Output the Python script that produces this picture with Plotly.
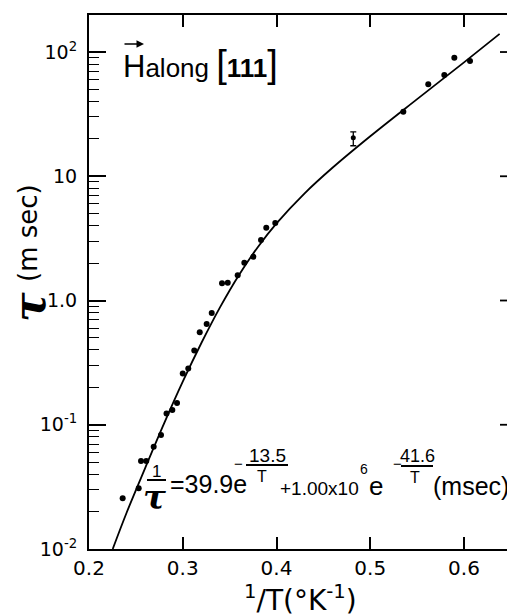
import math
import plotly.graph_objects as go

# ---- data ----
x_pts = [0.2359, 0.2530, 0.2555, 0.2611, 0.2690, 0.2768, 0.2827, 0.2889, 0.2939,
         0.3000, 0.3059, 0.3123, 0.3181, 0.3255, 0.3309, 0.3419, 0.3480, 0.3586,
         0.3657, 0.3753, 0.3835, 0.3891, 0.3987, 0.5353, 0.5619, 0.5790, 0.5897, 0.6064]
tau_pts = [0.0256, 0.0308, 0.0510, 0.0510, 0.0665, 0.0827, 0.123, 0.1315, 0.1496,
           0.259, 0.284, 0.396, 0.555, 0.647, 0.793, 1.375, 1.39, 1.60,
           2.01, 2.25, 3.07, 3.85, 4.2, 33.1, 55.0, 65.3, 90.0, 84.7]

x_err = [0.4819]
tau_err = [20.4]
err_plus = [2.4]
err_minus = [2.8]

x_fit = [0.2253, 0.24, 0.26, 0.28, 0.30, 0.32, 0.34, 0.36, 0.38, 0.40,
         0.43, 0.46, 0.50, 0.55, 0.60, 0.638]
tau_fit = [0.0100, 0.0195, 0.045, 0.102, 0.222, 0.457, 0.889, 1.607, 2.685, 4.175,
           7.29, 11.76, 21.0, 41.8, 82.6, 140.0]

x_tickvals = [0.2, 0.3, 0.4, 0.5, 0.6]
x_ticktext = ["0.2", "0.3", "0.4", "0.5", "0.6"]
y_tickvals = [0.01, 0.1, 1, 10, 100]
y_ticktext = ["10<sup>-2</sup>", "10<sup>-1</sup>", "1.0", "10", "10<sup>2</sup>"]

# ---- layout geometry (reference pixel coords; page body adds an 8px offset) ----
OFF = 8
W, H = 515 - OFF, 616 - OFF
L, R, T, B = 89, 515, 15, 549
YLOG = [-2, 2.298]


def px(x):
    return (x - L) / (R - L)


def py(y):
    return (B - y) / (B - T)


minor_vals = [m * 10 ** e for e in range(-2, 3) for m in range(2, 10)]

fig = go.Figure()
fig.add_trace(go.Scatter(x=x_fit, y=tau_fit, mode="lines", line=dict(color="black", width=1.8, shape="spline"),
                         showlegend=False, hoverinfo="skip"))
fig.add_trace(go.Scatter(x=x_pts, y=tau_pts, mode="markers", marker=dict(color="black", size=6),
                         showlegend=False))
fig.add_trace(go.Scatter(x=x_err, y=tau_err, mode="markers", marker=dict(color="black", size=5),
                         error_y=dict(type="data", array=err_plus, arrayminus=err_minus, color="black",
                                      thickness=1.3, width=3),
                         showlegend=False))

font_t = "DejaVu Sans"
font_f = "Liberation Sans"

fig.update_layout(
    width=W, height=H,
    margin=dict(l=L - OFF, r=0, t=T - OFF, b=H - (B - OFF)),
    paper_bgcolor="white", plot_bgcolor="white",
    font=dict(family=font_t, color="black"),
    xaxis=dict(range=[0.2, 0.6544], tickvals=x_tickvals, ticktext=x_ticktext,
               ticks="inside", ticklen=12, tickwidth=1.5, tickcolor="black",
               showline=True, linecolor="black", linewidth=2, mirror="ticks",
               showgrid=False, zeroline=False, tickfont=dict(size=20, family=font_t),
               ticklabelstandoff=0),
    yaxis=dict(type="log", range=YLOG, tickvals=y_tickvals, ticktext=y_ticktext,
               ticks="inside", ticklen=17, tickwidth=1.5, tickcolor="black",
               showline=True, linecolor="black", linewidth=2, mirror=False,
               showgrid=False, zeroline=False, tickfont=dict(size=19, family=font_t),
               ticklabelstandoff=6,
               minor=dict(tickvals=minor_vals, ticks="inside", ticklen=10, tickwidth=1.2,
                          tickcolor="black", showgrid=False)),
)

ann = []


def txt(x, y, s, size, family=font_f, xanchor="center", angle=0):
    ann.append(dict(x=px(x), y=py(y), xref="paper", yref="paper", text=s, showarrow=False,
                    xanchor=xanchor, yanchor="middle", textangle=angle,
                    font=dict(size=size, family=family, color="black")))


shapes = []


def bar(x0, x1, y):
    shapes.append(dict(type="line", xref="paper", yref="paper", x0=px(x0), x1=px(x1),
                       y0=py(y), y1=py(y), line=dict(color="black", width=2)))


# right-edge inward ticks at the major decades (frame has no right line visible)
for v in y_tickvals[1:]:
    yp = (math.log10(v) - YLOG[0]) / (YLOG[1] - YLOG[0])
    shapes.append(dict(type="line", xref="paper", yref="paper", x0=px(500), x1=1.0,
                       y0=yp, y1=yp, line=dict(color="black", width=1.8)))

# title inside plot: H along [111]
txt(121, 64, '<span style="font-size:31px">H</span>along <span style="font-size:38px">[</span>'
             '<b>111</b><span style="font-size:38px">]</span>', 26, xanchor="left")
ann.append(dict(x=px(144), y=py(44), ax=-21, ay=0, xref="paper", yref="paper",
                showarrow=True, arrowhead=2, arrowsize=1, arrowwidth=1.5, arrowcolor="black", text=""))

# formula
txt(156, 471, "1", 17)
bar(147, 166, 480)
txt(154, 497, "<b><i>τ</i></b>", 34, family="DejaVu Serif")
txt(168, 484, "=39.9e", 25, xanchor="left")
txt(238, 463, "−", 15)
txt(267, 455, "13.5", 19)
bar(246, 288, 465)
txt(261.5, 476, "T", 16)
txt(278, 488, "+1.00x10", 19, xanchor="left")
txt(364, 469, "6", 14)
txt(367, 486, "e", 26, xanchor="left")
txt(397, 463, "−", 15)
txt(417, 456, "41.6", 18)
bar(401, 433, 466)
txt(414.5, 477, "T", 16)
txt(431, 486, "(msec)", 25, xanchor="left")

# y axis title
txt(29, 307, "<b><i>τ</i></b>", 44, family="DejaVu Serif", angle=-90)
txt(28, 233, "(m sec)", 26, family=font_t, angle=-90)

# x axis title
txt(300, 598, "<sup>1</sup>/T(°K<sup>-1</sup>)", 28, family=font_t)

fig.update_layout(annotations=ann, shapes=shapes)

fig.write_html("out.html")
